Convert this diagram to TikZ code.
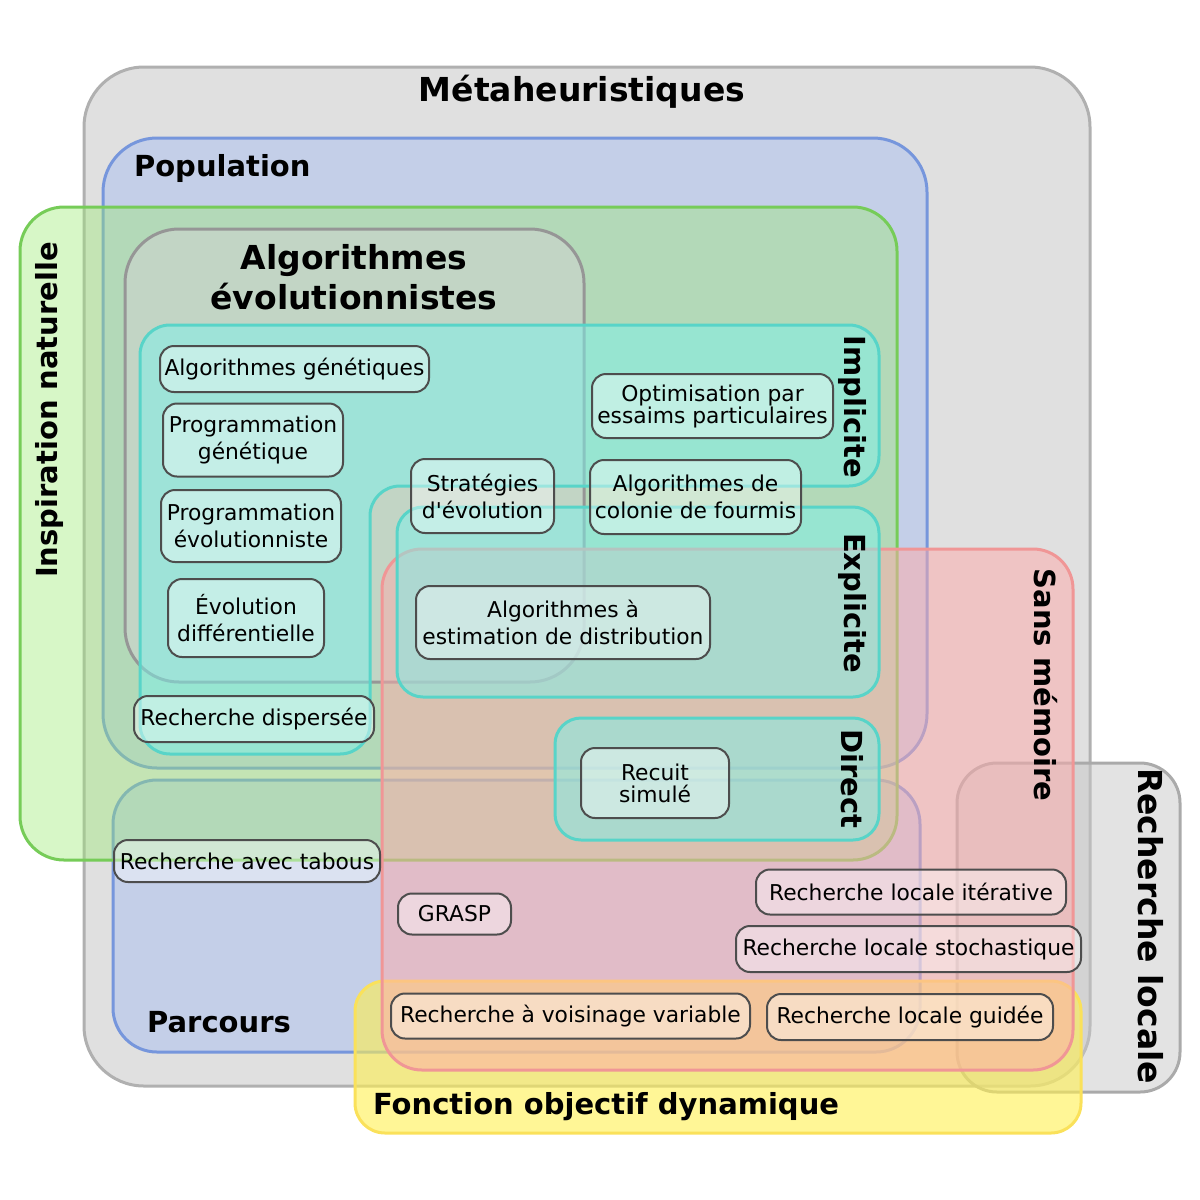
\documentclass[tikz,border=0pt]{standalone}
\usepackage{fontspec}
\setmainfont{DejaVu Sans}
\usepackage{tikz}
\usetikzlibrary{positioning}
\definecolor{metafill}{RGB}{224,224,224}
\definecolor{metaline}{RGB}{176,176,176}
\definecolor{popfill}{RGB}{170,192,240}
\definecolor{popline}{RGB}{118,150,220}
\definecolor{natfill}{RGB}{155,234,114}
\definecolor{natline}{RGB}{118,204,88}
\definecolor{evofill}{RGB}{210,210,210}
\definecolor{evoline}{RGB}{150,150,150}
\definecolor{cyanfill}{RGB}{124,242,235}
\definecolor{cyanline}{RGB}{88,212,200}
\definecolor{redfill}{RGB}{255,170,170}
\definecolor{redline}{RGB}{240,150,150}
\definecolor{rlfill}{RGB}{200,200,200}
\definecolor{rlline}{RGB}{170,170,170}
\definecolor{yelfill}{RGB}{255,240,80}
\definecolor{yelline}{RGB}{250,225,90}
\definecolor{boxline}{RGB}{77,77,77}
\tikzset{
  zone/.style={line width=1.5pt, fill opacity=0.5},
  algobox/.style={draw=boxline, fill=white, fill opacity=0.4, text opacity=1, rounded corners=7pt, line width=1pt, align=center, inner sep=0pt, font=\fontsize{10.9}{13.5}\selectfont},
  label/.style={font=\fontsize{14.5}{18}\selectfont\bfseries},
  biglabel/.style={font=\fontsize{16.5}{20}\selectfont\bfseries, align=center},
}
\begin{document}
\begin{tikzpicture}[x=0.5pt,y=-0.5pt]
\useasboundingbox (0,0) rectangle (1200,1200);

% ensembles
\draw[line width=1.5pt, draw=metaline, fill=metafill, rounded corners=30pt] (84,67) rectangle (1090,1086);
\draw[zone, draw=popline, fill=popfill, rounded corners=27pt] (103,138) rectangle (927,768);
\draw[zone, draw=rlline, fill=rlfill, rounded corners=20pt] (957,763) rectangle (1180,1092);
\draw[zone, draw=popline, fill=popfill, rounded corners=22pt] (113,780) rectangle (920,1052);
\draw[zone, draw=natline, fill=natfill, fill opacity=0.4, rounded corners=22pt] (20,207) rectangle (897,860);
\draw[zone, draw=yelline, fill=yelfill, fill opacity=0.6, rounded corners=15pt] (355,981) rectangle (1081,1133);
\draw[zone, draw=evoline, fill=evofill, rounded corners=27pt] (125,229) rectangle (584,682);
\draw[zone, draw=redline, fill=redfill, rounded corners=20pt] (382,549) rectangle (1073,1070);
\draw[zone, draw=cyanline, fill=cyanfill, rounded corners=15pt] (140,325) -- (879,325) -- (879,486) -- (370,486) -- (370,754) -- (140,754) -- cycle;
\draw[zone, draw=cyanline, fill=cyanfill, rounded corners=13pt] (397,507) rectangle (879,697);
\draw[zone, draw=cyanline, fill=cyanfill, rounded corners=13pt] (555,718) rectangle (879,840);

% titres
\node[biglabel] (meta) at (582,92) {Métaheuristiques};
\node[label, anchor=west] (pop) at (127,168) {Population};
\node[label, rotate=90] (nat) at (49,410) {Inspiration naturelle};
\node[biglabel] (evo) at (354,277) {Algorithmes\\évolutionnistes};
\node[label, rotate=-90] (impl) at (852,407) {Implicite};
\node[label, rotate=-90] (expl) at (852,603) {Explicite};
\node[label, rotate=-90] (dir) at (852,779) {Direct};
\node[label, rotate=-90] (sans) at (1046,685) {Sans mémoire};
\node[biglabel, rotate=-90] (rloc) at (1151,926) {Recherche locale};
\node[label] (parc) at (219,1022) {Parcours};
\node[label, anchor=west] (fod) at (366,1107) {Fonction objectif dynamique};

% methodes
\node[algobox, minimum width=134.5pt, minimum height=23pt] (ag) at (294.5,369) {Algorithmes génétiques};
\node[algobox, minimum width=90pt, minimum height=36.5pt] (pg) at (253,440) {Programmation\\génétique};
\node[algobox, minimum width=90pt, minimum height=36pt] (pe) at (251,526) {Programmation\\évolutionniste};
\node[algobox, minimum width=78pt, minimum height=39pt] (ed) at (246,618) {Évolution\\différentielle};
\node[algobox, minimum width=120pt, minimum height=23pt] (rd) at (254,719) {Recherche dispersée};
\node[algobox, minimum width=71.5pt, minimum height=37pt] (se) at (482.5,496) {Stratégies\\d\textquotesingle évolution};
\node[algobox, minimum width=120.5pt, minimum height=32pt, font=\fontsize{10.9}{11}\selectfont] (op) at (712.5,406) {Optimisation par\\essaims particulaires};
\node[algobox, minimum width=105.5pt, minimum height=37pt] (ac) at (695.5,497) {Algorithmes de\\colonie de fourmis};
\node[algobox, minimum width=147pt, minimum height=36.5pt] (ae) at (563,622.5) {Algorithmes à\\estimation de distribution};
\node[algobox, minimum width=74pt, minimum height=35pt, font=\fontsize{10.9}{11}\selectfont] (rs) at (655,783) {Recuit\\simulé};
\node[algobox, minimum width=133pt, minimum height=21pt] (rt) at (247,861) {Recherche avec tabous};
\node[algobox, minimum width=56.5pt, minimum height=20.5pt] (gr) at (454.5,914) {GRASP};
\node[algobox, minimum width=155pt, minimum height=22.5pt] (rli) at (911,892) {Recherche locale itérative};
\node[algobox, minimum width=172.5pt, minimum height=23pt] (rls) at (908.5,949) {Recherche locale stochastique};
\node[algobox, minimum width=179.5pt, minimum height=22.5pt] (rvv) at (570.5,1016) {Recherche à voisinage variable};
\node[algobox, minimum width=143pt, minimum height=23pt] (rlg) at (910,1017) {Recherche locale guidée};
\end{tikzpicture}
\end{document}
